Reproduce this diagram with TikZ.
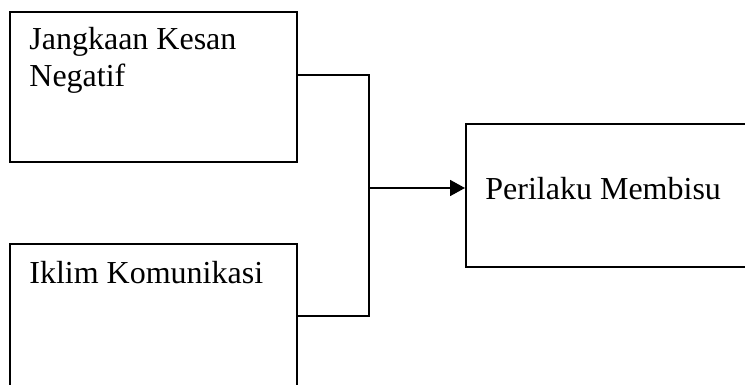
\documentclass[tikz,border=0pt]{standalone}
\usepackage{fontspec}
\setmainfont{Liberation Serif}
\usetikzlibrary{arrows.meta}
\tikzstyle{varbox} = [draw=black, line width=0.9pt, rectangle, anchor=north west,
inner sep=0pt, minimum width=143.5pt, minimum height=75pt]
\tikzstyle{vartext} = [anchor=base west, inner sep=0pt, align=left,
font=\fontsize{16}{18.5}\selectfont]

\begin{document}
\begin{tikzpicture}[x=0.5pt, y=-0.5pt]
        \useasboundingbox (0,0) rectangle (745,385);
        \clip (0,0) rectangle (745,385);
        % the three variables
        \node [varbox] (neg) at (9,11) {};
        \node [varbox] (clim) at (9,243) {};
        \node [varbox, minimum width=160pt, minimum height=71.5pt] (beh) at (465,123) {};
        % base of a two-line node is the last line
        \node [vartext] (negtext) at ([shift={(20,76)}]neg.north west) {Jangkaan Kesan\\Negatif};
        \node [vartext] (climtext) at ([shift={(20,40)}]clim.north west) {Iklim Komunikasi};
        \node [vartext] (behtext) at ([shift={(20,76)}]beh.north west) {Perilaku Membisu};
        % joining lines
        \coordinate (join) at (369,188);
        \draw [line width=0.9pt] ([yshift=6pt]neg.east) -| (join);
        \draw [line width=0.9pt] ([yshift=1.5pt]clim.east) -| (join);
        \draw [line width=0.9pt, -{Triangle[length=7.5pt, width=8pt]}] (join) -- (join -| beh.west);
    \end{tikzpicture}
\end{document}
